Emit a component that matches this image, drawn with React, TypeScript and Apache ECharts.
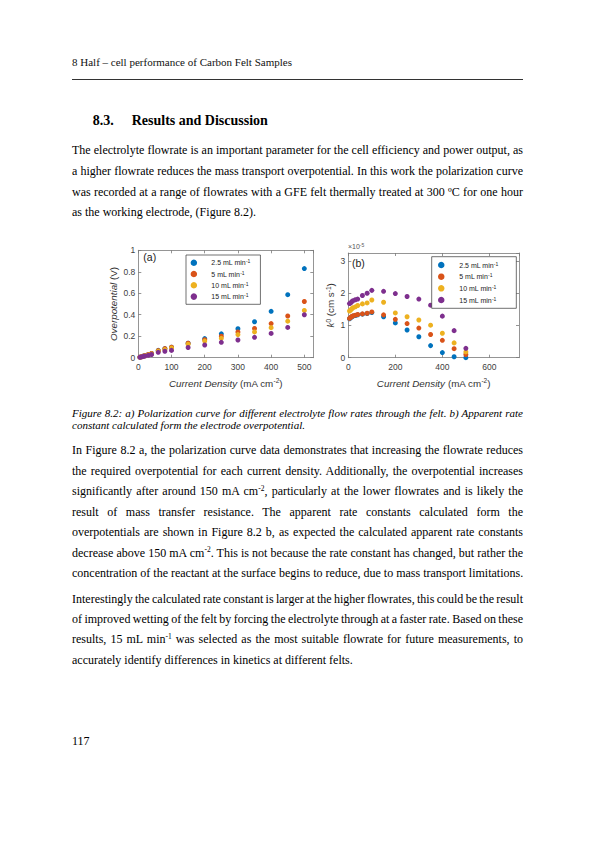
import React, { useEffect, useRef } from 'react';
import * as echarts from 'echarts';

// ---------- data ----------
const currentDensity = [5, 10, 15, 20, 30, 40, 60, 80, 100, 150, 200, 250, 300, 350, 400, 450, 500];
const flowNames = ['2.5 mL min-1', '5 mL min-1', '10 mL min-1', '15 mL min-1'];
const flowColors = ['#0072BD', '#D95319', '#EDB120', '#7E2F8E'];

// (a) overpotential, V
const overpotential25 = [0.005, 0.01, 0.015, 0.02, 0.03, 0.04, 0.068, 0.085, 0.098, 0.135, 0.178, 0.222, 0.27, 0.335, 0.432, 0.587, 0.83];
const overpotential5 = [0.005, 0.01, 0.015, 0.02, 0.03, 0.04, 0.066, 0.085, 0.097, 0.135, 0.168, 0.2, 0.24, 0.272, 0.318, 0.388, 0.523];
const overpotential10 = [0.005, 0.009, 0.013, 0.018, 0.026, 0.035, 0.06, 0.075, 0.09, 0.125, 0.155, 0.18, 0.215, 0.24, 0.28, 0.34, 0.44];
const overpotential15 = [0.004, 0.008, 0.012, 0.016, 0.022, 0.03, 0.05, 0.06, 0.068, 0.095, 0.118, 0.143, 0.165, 0.19, 0.226, 0.282, 0.4];

// (b) apparent rate constant k0, x10^-5 cm s-1
const rate25 = [1.21, 1.24, 1.27, 1.29, 1.31, 1.33, 1.35, 1.37, 1.4, 1.27, 1.08, 0.86, 0.65, 0.375, 0.16, 0.03, 0.0];
const rate5 = [1.22, 1.25, 1.28, 1.3, 1.32, 1.34, 1.36, 1.38, 1.42, 1.33, 1.19, 1.06, 0.92, 0.72, 0.54, 0.28, 0.1];
const rate10 = [1.45, 1.48, 1.52, 1.55, 1.58, 1.62, 1.67, 1.7, 1.79, 1.72, 1.39, 1.27, 1.17, 1.01, 0.76, 0.46, 0.18];
const rate15 = [1.68, 1.7, 1.74, 1.77, 1.8, 1.82, 1.93, 2.0, 2.09, 2.06, 1.99, 1.9, 1.82, 1.63, 1.29, 0.84, 0.29];

const overpotentialSeries = [overpotential25, overpotential5, overpotential10, overpotential15];
const rateSeries = [rate25, rate5, rate10, rate15];

// ---------- page text ----------
const headerText = '8 Half \u2013 cell performance of Carbon Felt Samples';
const para1 = [
  'The electrolyte flowrate is an important parameter for the cell efficiency and power output, as',
  'a higher flowrate reduces the mass transport overpotential. In this work the polarization curve',
  'was recorded at a range of flowrates with a GFE felt thermally treated at 300 \u00BAC for one hour',
  'as the working electrode, (Figure 8.2).',
];
const caption = [
  'Figure 8.2: a) Polarization curve for different electrolyte flow rates through the felt. b) Apparent rate',
  'constant calculated form the electrode overpotential.',
];
const para2 = [
  'In Figure 8.2 a, the polarization curve data demonstrates that increasing the flowrate reduces',
  'the required overpotential for each current density. Additionally, the overpotential increases',
  'significantly after around 150 mA cm^-2, particularly at the lower flowrates and is likely the',
  'result of mass transfer resistance. The apparent rate constants calculated form the',
  'overpotentials are shown in Figure 8.2 b, as expected the calculated apparent rate constants',
  'decrease above 150 mA cm^-2. This is not because the rate constant has changed, but rather the',
  'concentration of the reactant at the surface begins to reduce, due to mass transport limitations.',
];
const para3 = [
  'Interestingly the calculated rate constant is larger at the higher flowrates, this could be the result',
  'of improved wetting of the felt by forcing the electrolyte through at a faster rate. Based on these',
  'results, 15 mL min^-1 was selected as the most suitable flowrate for future measurements, to',
  'accurately identify differences in kinetics at different felts.',
];
const para1Centers = [150.7, 171.5, 192, 212.5];
const captionCenters = [414, 425.5];
const para2Centers = [450.7, 471, 491.5, 512, 532.7, 553, 573.7];
const para3Centers = [599, 619.3, 639.7, 660];

const SERIF = '"Liberation Serif", "Times New Roman", serif';
const SANS = '"Liberation Sans", Arial, Helvetica, sans-serif';

function renderSup(text: string) {
  const parts = text.split(/\^(-\d)/);
  return parts.map((p, i) =>
    i % 2 === 1 ? (
      <span key={i} style={{ fontSize: '7.5px', position: 'relative', top: '-4.5px' }}>{p}</span>
    ) : (
      <React.Fragment key={i}>{p}</React.Fragment>
    )
  );
}

function TextLine(props: { text: string; center: number; size?: number; justify?: boolean; italic?: boolean }) {
  const size = props.size ?? 12;
  const justify = props.justify ?? true;
  return (
    <div
      style={{
        position: 'absolute',
        left: 72,
        top: props.center - size * 0.54,
        width: 451,
        fontFamily: SERIF,
        fontSize: size,
        lineHeight: `${size}px`,
        fontStyle: props.italic ? 'italic' : 'normal',
        textAlign: justify ? 'justify' : 'left',
        textAlignLast: justify ? 'justify' : 'left',
        wordSpacing: justify ? '-1.5px' : '0px',
        whiteSpace: justify ? 'normal' : 'nowrap',
        color: '#000',
      } as React.CSSProperties}
    >
      {renderSup(props.text)}
    </div>
  );
}

function Paragraph(props: { lines: string[]; centers: number[]; size?: number; italic?: boolean }) {
  return (
    <>
      {props.lines.map((t, i) => (
        <TextLine
          key={i}
          text={t}
          center={props.centers[i]}
          size={props.size}
          italic={props.italic}
          justify={i < props.lines.length - 1}
        />
      ))}
    </>
  );
}

function buildOption() {
  const axisColor = '#7a7a7a';
  const labelColor = '#404040';
  const axisBase = {
    axisLine: { show: true, onZero: false, lineStyle: { color: axisColor, width: 0.8 } },
    axisTick: { show: true, inside: true, length: 3, lineStyle: { color: axisColor, width: 0.8 } },
    splitLine: { show: false },
  };
  const labelBase = { color: labelColor, fontSize: 8.5, fontFamily: SANS };
  const nameStyle = {
    color: '#333',
    fontSize: 9.8,
    lineHeight: 12,
    fontFamily: SANS,
    rich: {
      i: { fontStyle: 'italic', fontSize: 9.8, lineHeight: 12, fontFamily: SANS, color: '#333' },
      sup: { fontSize: 6.5, lineHeight: 6, verticalAlign: 'top', fontFamily: SANS, color: '#333' },
    },
  };
  const mirror = (type: 'x' | 'y', grid: number, min: number, max: number, interval: number) => ({
    type: 'value',
    gridIndex: grid,
    position: type === 'x' ? 'top' : 'right',
    min,
    max,
    interval,
    ...axisBase,
    axisLabel: { show: false },
  });

  const legendText = {
    fontSize: 7,
    lineHeight: 8,
    fontFamily: SANS,
    color: '#222',
    rich: {
      sup: { fontSize: 5, lineHeight: 4, verticalAlign: 'top', fontFamily: SANS, color: '#222' },
    },
  };
  const legendFormatter = (name: string) => name.replace(' min-1', ' min{sup|-1}');

  const series: any[] = [];
  overpotentialSeries.forEach((vals, i) => {
    series.push({
      type: 'scatter',
      name: flowNames[i],
      xAxisIndex: 0,
      yAxisIndex: 0,
      symbol: 'circle',
      symbolSize: 5,
      itemStyle: { color: flowColors[i], opacity: 1 },
      data: currentDensity.map((x, j) => [x, vals[j]]),
      silent: true,
    });
  });
  rateSeries.forEach((vals, i) => {
    series.push({
      type: 'scatter',
      name: flowNames[i],
      xAxisIndex: 2,
      yAxisIndex: 2,
      symbol: 'circle',
      symbolSize: 5,
      itemStyle: { color: flowColors[i], opacity: 1 },
      data: currentDensity.map((x, j) => [x, vals[j]]),
      silent: true,
    });
  });

  return {
    animation: false,
    grid: [
      { left: 38.3, top: 15.3, width: 175, height: 107.4 },
      { left: 248.3, top: 18, width: 170.7, height: 104.7 },
    ],
    xAxis: [
      {
        type: 'value', gridIndex: 0, position: 'bottom', min: 0, max: 527, interval: 100,
        ...axisBase,
        axisLabel: { ...labelBase, margin: 5, showMaxLabel: false },
        name: '{i|Current Density} (mA cm{sup|-2})', nameLocation: 'middle', nameGap: 19.5,
        nameTextStyle: nameStyle,
      },
      mirror('x', 0, 0, 527, 100),
      {
        type: 'value', gridIndex: 1, position: 'bottom', min: 0, max: 726, interval: 200,
        ...axisBase,
        axisLabel: { ...labelBase, margin: 5, showMaxLabel: false },
        name: '{i|Current Density} (mA cm{sup|-2})', nameLocation: 'middle', nameGap: 19.5,
        nameTextStyle: nameStyle,
      },
      mirror('x', 1, 0, 726, 200),
    ],
    yAxis: [
      {
        type: 'value', gridIndex: 0, position: 'left', min: 0, max: 1, interval: 0.2,
        ...axisBase,
        axisLabel: { ...labelBase, margin: 3 },
        name: '{i|Overpotential} (V)', nameLocation: 'middle', nameGap: 17.5, nameRotate: 90,
        nameTextStyle: nameStyle,
      },
      mirror('y', 0, 0, 1, 0.2),
      {
        type: 'value', gridIndex: 1, position: 'left', min: 0, max: 3.25, interval: 1,
        ...axisBase,
        axisLabel: { ...labelBase, margin: 3, showMaxLabel: false },
        name: '{i|k}{sup|0} (cm s{sup|-1})', nameLocation: 'middle', nameGap: 9, nameRotate: 90,
        nameTextStyle: nameStyle,
      },
      mirror('y', 1, 0, 3.25, 1),
    ],
    legend: [
      {
        data: flowNames, orient: 'vertical', left: 86, top: 20,
        icon: 'circle', itemWidth: 25, itemHeight: 6.5, itemGap: 3.3,
        padding: [3.7, 10, 3.7, 4.6],
        borderColor: '#333', borderWidth: 0.7, backgroundColor: '#fff',
        selectedMode: false, symbolKeepAspect: true,
        formatter: legendFormatter, textStyle: legendText,
      },
      {
        data: flowNames, orient: 'vertical', left: 331.7, top: 21.7,
        icon: 'circle', itemWidth: 26, itemHeight: 6.5, itemGap: 3.67,
        padding: [4.3, 18, 4.3, 6.3],
        borderColor: '#333', borderWidth: 0.7, backgroundColor: '#fff',
        selectedMode: false, symbolKeepAspect: true,
        formatter: legendFormatter, textStyle: legendText,
      },
    ],
    graphic: [
      { type: 'text', x: 43.3, y: 21.7, style: { text: '(a)', fontSize: 10.5, fontFamily: SANS, fill: '#222', align: 'left', verticalAlign: 'middle' } },
      { type: 'text', x: 252, y: 28, style: { text: '(b)', fontSize: 10.5, fontFamily: SANS, fill: '#222', align: 'left', verticalAlign: 'middle' } },
      {
        type: 'text', x: 248, y: 11,
        style: {
          text: '\u00D710{s|-5}', fontSize: 7, fontFamily: SANS, fill: '#555', align: 'left', verticalAlign: 'middle',
          rich: { s: { fontSize: 5, fontFamily: SANS, fill: '#555', verticalAlign: 'top', lineHeight: 5 } },
        },
      },
    ],
    series,
  };
}

export default function App() {
  const chartRef = useRef<HTMLDivElement>(null);

  useEffect(() => {
    if (!chartRef.current) return;
    const chart = echarts.init(chartRef.current, null, { renderer: 'svg' });
    chart.setOption(buildOption() as any);
    return () => chart.dispose();
  }, []);

  return (
    <div style={{ position: 'absolute', left: 0, top: 0, width: 595, height: 842, background: '#fff', overflow: 'hidden' }}>
      <div style={{ position: 'absolute', left: 72, top: 63 - 6, fontFamily: SERIF, fontSize: 11, lineHeight: '11px', color: '#111', whiteSpace: 'nowrap' }}>
        {headerText}
      </div>
      <div style={{ position: 'absolute', left: 72, top: 78.5, width: 451, height: 0, borderTop: '0.8px solid #333' }} />
      <div style={{ position: 'absolute', left: 92.7, top: 122 - 7.6, fontFamily: SERIF, fontSize: 14, lineHeight: '14px', fontWeight: 'bold', whiteSpace: 'nowrap' }}>8.3.</div>
      <div style={{ position: 'absolute', left: 131.7, top: 122 - 7.6, fontFamily: SERIF, fontSize: 14, lineHeight: '14px', fontWeight: 'bold', whiteSpace: 'nowrap' }}>Results and Discussion</div>

      <Paragraph lines={para1} centers={para1Centers} />

      <div ref={chartRef} style={{ position: 'absolute', left: 100, top: 235, width: 430, height: 165 }} />

      <Paragraph lines={caption} centers={captionCenters} size={11} italic />
      <Paragraph lines={para2} centers={para2Centers} />
      <Paragraph lines={para3} centers={para3Centers} />

      <div style={{ position: 'absolute', left: 72, top: 741.7 - 6.5, fontFamily: SERIF, fontSize: 12, lineHeight: '12px', whiteSpace: 'nowrap' }}>117</div>
    </div>
  );
}
